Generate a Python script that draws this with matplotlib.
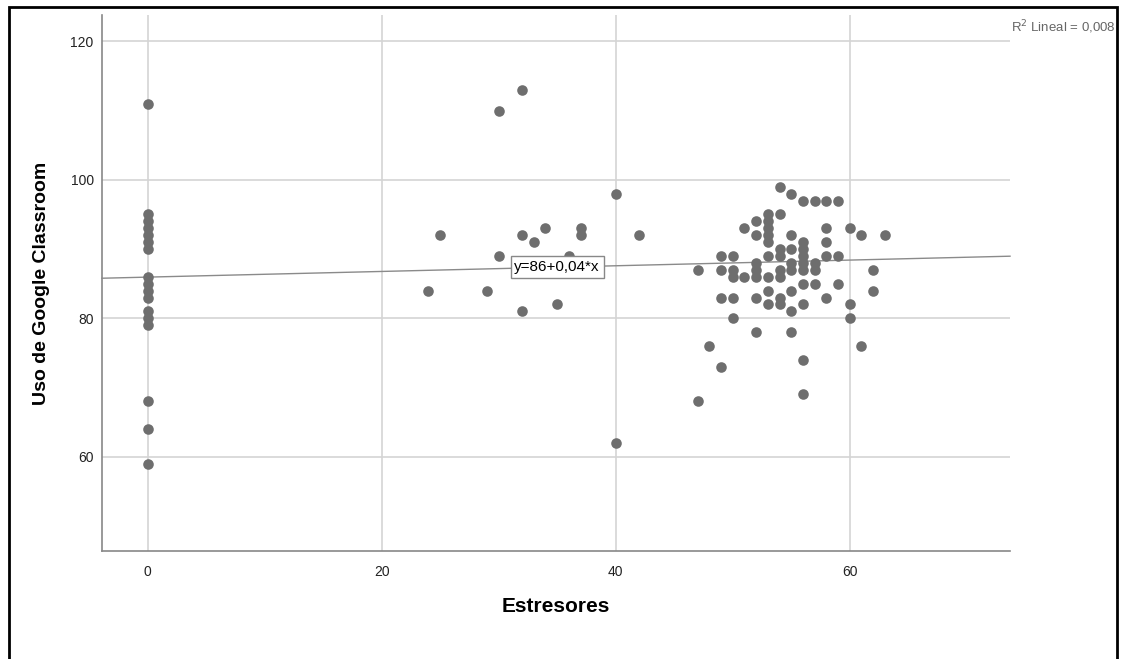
## Diagrama de dispersão: Estresores vs Uso de Google Classroom (estilo SPSS)
import matplotlib
matplotlib.use("Agg")
import matplotlib.pyplot as plt
from matplotlib.patches import Rectangle

plt.rcParams['font.family'] = ['Liberation Sans', 'DejaVu Sans']

## Dados lidos do gráfico
# grupo com Estresores = 0
x_zero = [0] * 17
y_zero = [111, 95, 94, 93, 92, 91, 90, 86, 85, 84, 83, 81, 80, 79, 68, 64, 59]

# grupo intermediário (24 a 42)
x_meio = [24, 25, 29, 30, 30, 32, 32, 32, 33, 34, 35, 36, 37, 37, 40, 40, 42]
y_meio = [84, 92, 84, 110, 89, 113, 92, 81, 91, 93, 82, 89, 93, 92, 98, 62, 92]

# grupo denso (47 a 63)
x_denso = ([47] * 2 + [48] + [49] * 4 + [50] * 5 + [51] * 2 + [52] * 7
           + [53] * 9 + [54] * 8 + [55] * 8 + [56] * 10 + [57] * 4
           + [58] * 5 + [59] * 3 + [60] * 3 + [61] * 2 + [62] * 2 + [63])
y_denso = [87, 68,
           76,
           89, 87, 83, 73,
           89, 87, 86, 83, 80,
           93, 86,
           94, 92, 88, 87, 86, 83, 78,
           95, 94, 93, 92, 91, 89, 86, 84, 82,
           99, 95, 90, 89, 87, 86, 83, 82,
           98, 92, 90, 88, 87, 84, 81, 78,
           97, 91, 90, 89, 88, 87, 85, 82, 74, 69,
           97, 88, 87, 85,
           97, 93, 91, 89, 83,
           97, 89, 85,
           93, 82, 80,
           92, 76,
           87, 84,
           92]

estresores = x_zero + x_meio + x_denso
uso_classroom = y_zero + y_meio + y_denso

# reta de ajuste indicada no gráfico (y=86+0,04*x)
intercepto = 85.95
inclinacao = 0.041
r2_texto = 'R$^2$ Lineal = 0,008'
eq_texto = 'y=86+0,04*x'

x_ticks = [0, 20, 40, 60]
y_ticks = [60, 80, 100, 120]
x_lim = (-3.9, 73.7)
y_lim = (46.4, 123.8)

## Figura
fig = plt.figure(figsize=(11.23, 6.59), dpi=100)
ax = fig.add_axes([0.0908, 0.1639, 0.8086, 0.8133])

cinza_ponto = '#6e6e6e'
cinza_grade = '#d4d4d4'

ax.set_xlim(x_lim)
ax.set_ylim(y_lim)
ax.set_xticks(x_ticks)
ax.set_yticks(y_ticks)
ax.grid(True, color=cinza_grade, linewidth=1.2)
ax.set_axisbelow(True)

for lado in ['top', 'right']:
    ax.spines[lado].set_visible(False)
for lado in ['left', 'bottom']:
    ax.spines[lado].set_color('#888888')
    ax.spines[lado].set_linewidth(1.2)
ax.tick_params(length=0, labelsize=10, colors='#222222')
ax.tick_params(axis='x', pad=10)
ax.tick_params(axis='y', pad=6)

# pontos
ax.scatter(estresores, uso_classroom, s=58, color=cinza_ponto, linewidths=0, zorder=3)

# reta de ajuste
xs = list(x_lim)
ys = [intercepto + inclinacao * v for v in xs]
ax.plot(xs, ys, color='#8a8a8a', linewidth=1.0, zorder=2, clip_on=False)

# rótulo da equação
ax.text(35, 87.4, eq_texto, fontsize=11, ha='center', va='center', zorder=4,
        bbox=dict(boxstyle='square,pad=0.25', facecolor='white', edgecolor='#888888', linewidth=1))

ax.set_xlabel('Estresores', fontsize=15, fontweight='bold', labelpad=13)
ax.set_ylabel('Uso de Google Classroom', fontsize=14, fontweight='bold', labelpad=15)

# texto R2 no canto superior direito
fig.text(1116 / 1123, 1 - 27 / 659, r2_texto, fontsize=9.5, color='#666666',
         ha='right', va='center')

# moldura preta da figura
fig.patches.append(Rectangle((9 / 1123, -0.05), (1117 - 9) / 1123, 1.05 - 6.5 / 659,
                             transform=fig.transFigure, fill=False,
                             edgecolor='black', linewidth=2))

plt.savefig('out.png', dpi=100)
